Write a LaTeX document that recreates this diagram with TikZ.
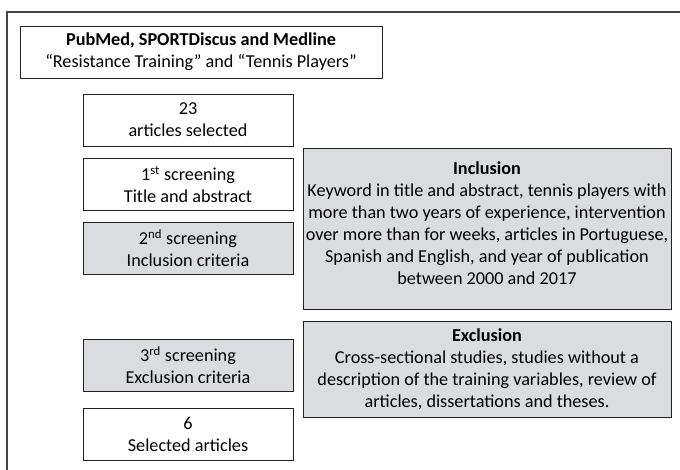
\documentclass[tikz,border=0pt]{standalone}
\usepackage{fontspec}
\setmainfont{Carlito}
\usepackage{tikz}
\usetikzlibrary{positioning}
\definecolor{boxgray}{RGB}{219,220,224}
\definecolor{boxline}{RGB}{35,31,32}
\definecolor{framegray}{RGB}{70,70,70}

\begin{document}
\begin{tikzpicture}[x=1pt, y=-1pt,
      every node/.style={font=\fontsize{18.2}{22}\selectfont, align=center},
      stage/.style={draw=boxline, line width=0.9pt, fill=white,
                    minimum width=210pt, minimum height=52pt, inner sep=0pt},
      sieve/.style={stage, fill=boxgray},
      panel/.style={draw=boxline, line width=0.9pt, fill=boxgray,
                    minimum width=368pt, inner sep=0pt}]
    \useasboundingbox (0,0) rectangle (680,470);
    % Frame
    \draw[framegray, line width=1.3pt] (7,470) -- (7,12) -- (680,12);
    % Search
    \node[stage, minimum width=362pt] (src) at (201,52)
          {\textbf{PubMed, SPORTDiscus and Medline}\\
           “Resistance Training” and “Tennis Players”};
    % Screening steps
    \node[stage] (n23) at (188,120) {23\\articles selected};
    \node[stage] (S1) at (188,184.5) {1\textsuperscript{st} screening\\Title and abstract};
    \node[sieve] (S2) at (188,248) {2\textsuperscript{nd} screening\\Inclusion criteria};
    \node[sieve] (S3) at (188,365.5) {3\textsuperscript{rd} screening\\Exclusion criteria};
    \node[stage] (n6) at (188,434.5) {6\\Selected articles};
    % Criteria
    \node[panel, minimum height=161pt] (inc) at (487,228.5) {};
    \node[below=14pt of inc.north, inner sep=0pt] (inctext)
          {\textbf{Inclusion}\\
           Keyword in title and abstract, tennis players with\\
           more than two years of experience, intervention\\
           over more than for weeks, articles in Portuguese,\\
           Spanish and English, and year of publication\\
           between 2000 and 2017};
    \node[panel, minimum height=96pt] (exc) at (487,369)
          {\textbf{Exclusion}\\
           Cross-sectional studies, studies without a\\
           description of the training variables, review of\\
           articles, dissertations and theses.};
  \end{tikzpicture}
\end{document}
